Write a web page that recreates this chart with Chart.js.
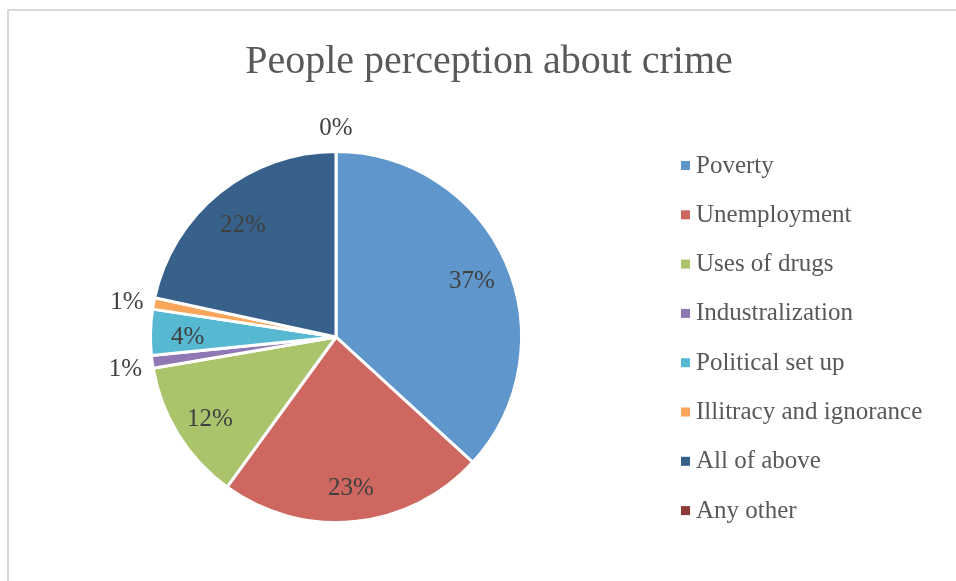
<!DOCTYPE html>
<html>
<head>
<meta charset="utf-8">
<script src="https://cdn.jsdelivr.net/npm/chart.js@4"></script>
<style>
  html, body { margin: 0; padding: 0; background: #fff; }
  #wrap { position: relative; width: 956px; height: 581px; overflow: hidden; }
  #frame { position: absolute; left: 7px; top: 9px; width: 1000px; height: 600px; border: 2px solid #d9d9d9; box-sizing: border-box; }
  #chart { position: absolute; left: 0; top: 0; }
</style>
</head>
<body>
<div id="wrap">
  <div id="frame"></div>
  <canvas id="chart" width="956" height="581"></canvas>
</div>
<script>
const chartTitle = 'People perception about crime';
const categories = ['Poverty', 'Unemployment', 'Uses of drugs', 'Industralization', 'Political set up', 'Illitracy and ignorance', 'All of above', 'Any other'];
const shares = [36.8, 23.2, 12.3, 1.1, 4.0, 1.0, 21.6, 0];
const sliceColors = ['#5f96cc', '#cd6760', '#a9c46b', '#8f78b3', '#57b8d1', '#f9a65a', '#37608a', '#8e3a38'];

const FONT = '"Liberation Serif", "DejaVu Serif", serif';

const total = shares.reduce((a, b) => a + b, 0);

// title drawn by hand so it can sit over the whole frame, not the pie area
const titlePlugin = {
    id: 'titleText',
    afterDraw(chart) {
        const ctx = chart.ctx;
        ctx.save();
        ctx.font = '40px ' + FONT;
        ctx.fillStyle = '#595959';
        ctx.textAlign = 'center';
        ctx.textBaseline = 'middle';
        ctx.fillText(chartTitle, 489, 62);
        ctx.restore();
    }
};

const legendPlugin = {
    id: 'sideLegend',
    afterDraw(chart) {
        const ctx = chart.ctx;
        ctx.save();
        ctx.font = '25px ' + FONT;
        ctx.textBaseline = 'middle';
        ctx.textAlign = 'left';
        categories.forEach((name, i) => {
            const y = 166 + i * 49.3;
            ctx.fillStyle = sliceColors[i];
            ctx.fillRect(681, y - 5, 9, 9);
            ctx.fillStyle = '#595959';
            ctx.fillText(name, 696, y);
        });
        ctx.restore();
    }
};

const sliceLabels = {
    id: 'sliceLabels',
    afterDatasetsDraw(chart) {
        const ctx = chart.ctx;
        const meta = chart.getDatasetMeta(0);
        ctx.save();
        ctx.font = '25px ' + FONT;
        ctx.fillStyle = '#404040';
        ctx.textAlign = 'center';
        ctx.textBaseline = 'middle';
        meta.data.forEach((arc, i) => {
            const pct = shares[i] / total * 100;
            const mid = (arc.startAngle + arc.endAngle) / 2;
            const r = pct < 3 ? arc.outerRadius + 27 : arc.outerRadius * 0.8;
            const x = arc.x + Math.cos(mid) * r;
            const y = arc.y + Math.sin(mid) * r + 4;
            ctx.fillText(Math.round(pct) + '%', x, y);
        });
        ctx.restore();
    }
};

new Chart(document.getElementById('chart'), {
    type: 'pie',
    data: {
        labels: categories,
        datasets: [{
            data: shares,
            backgroundColor: sliceColors,
            borderColor: '#ffffff',
            borderWidth: 3,
            hoverOffset: 0
        }]
    },
    options: {
        responsive: false,
        animation: false,
        layout: {
            padding: { top: 150, bottom: 57, left: 149, right: 433 }
        },
        plugins: {
            legend: { display: false },
            tooltip: { enabled: false },
            title: { display: false }
        }
    },
    plugins: [sliceLabels, titlePlugin, legendPlugin]
});
</script>
</body>
</html>
